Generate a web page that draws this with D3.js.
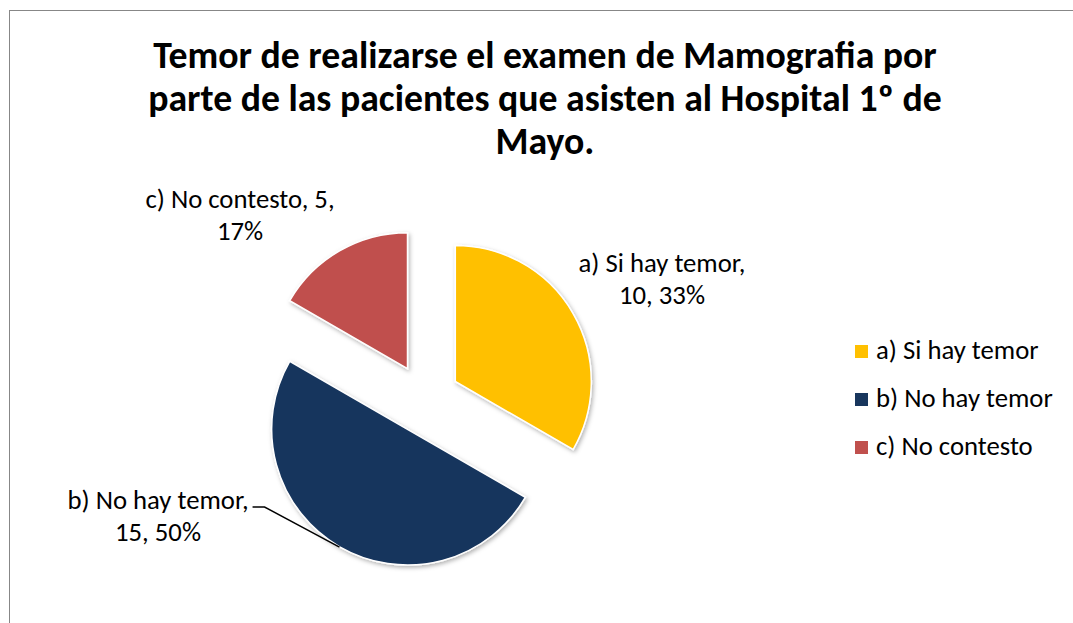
<!DOCTYPE html>
<html lang="es">
  <head>
    <meta charset="UTF-8" />
    <title>Temor de realizarse el examen de Mamografia</title>
    <style>
      body {
        margin: 0;
        background: #fff;
      }

      text {
        font-family: Calibri, Carlito, Lato, sans-serif;
        fill: #000;
      }

      .frame {
        fill: none;
        stroke: #878787;
        stroke-width: 1px;
      }

      .slice {
        stroke: #fff;
        stroke-width: 1.5px;
      }

      .leader {
        fill: none;
        stroke: #000;
        stroke-width: 1.5px;
      }
    </style>
  </head>

  <body>
    <script src="https://cdn.jsdelivr.net/npm/d3@7"></script>
    <script>

      // data
      var categories = ["a) Si hay temor", "b) No hay temor", "c) No contesto"];
      var counts = [10, 15, 5];
      var percents = ["33%", "50%", "17%"];
      var colors = ["#FFC000", "#18365D", "#C0504D"];
      var titleLines = [
        "Temor de realizarse el examen de Mamografia por",
        "parte de las pacientes que asisten al Hospital 1º de",
        "Mayo."
      ];

      var w = 1073,
          h = 623;

      var center = { x: 425, y: 399 },
          radius = 136,
          explode = 35;

      // label anchors relative to the pie center (middle of text, first baseline)
      var labelOffsets = [
        { dx: 237, dy: -127 },
        { dx: -267, dy: 110 },
        { dx: -185, dy: -191 }
      ];

      var svg = d3.select("body").append("svg")
        .attr("width", w)
        .attr("height", h);

      var defs = svg.append("defs");
      defs.append("filter")
        .attr("id", "shadow")
        .attr("x", "-20%").attr("y", "-20%")
        .attr("width", "140%").attr("height", "140%")
        .append("feDropShadow")
        .attr("dx", 1.5)
        .attr("dy", 2)
        .attr("stdDeviation", 2)
        .attr("flood-color", "#000")
        .attr("flood-opacity", 0.3);

      // chart frame (runs off the right and bottom edges)
      svg.append("rect")
        .attr("class", "frame")
        .attr("x", 9.5)
        .attr("y", 10.5)
        .attr("width", w + 20)
        .attr("height", h + 20);

      // pick a font size so a sample string matches the width seen in the picture
      function fitSize(str, weight, target) {
        var t = svg.append("text")
          .style("font-size", "100px")
          .style("font-weight", weight)
          .text(str);
        var len = t.node().getComputedTextLength();
        t.remove();
        return 100 * target / len;
      }

      var titleSize = fitSize(titleLines[0], "bold", 784);
      var labelSize = fitSize("a) Si hay temor,", "normal", 167);

      // title
      svg.append("g")
        .selectAll("text")
        .data(titleLines)
        .enter()
        .append("text")
        .attr("x", 545)
        .attr("y", function(d, i) { return 68 + i * 43; })
        .attr("text-anchor", "middle")
        .style("font-size", titleSize + "px")
        .style("font-weight", "bold")
        .text(function(d) { return d; });

      // pie
      var pie = d3.pie()
        .sort(null)
        .value(function(d) { return d; });

      var arcs = pie(counts);

      var arc = d3.arc()
        .innerRadius(0)
        .outerRadius(radius);

      function midAngle(d) { return (d.startAngle + d.endAngle) / 2; }

      function offset(d, r) {
        var a = midAngle(d);
        return [Math.sin(a) * r, -Math.cos(a) * r];
      }

      var pieG = svg.append("g")
        .attr("transform", "translate(" + center.x + "," + center.y + ")");

      pieG.selectAll("path")
        .data(arcs)
        .enter()
        .append("path")
        .attr("class", "slice")
        .attr("filter", "url(#shadow)")
        .attr("transform", function(d) {
          var o = offset(d, explode);
          return "translate(" + o[0] + "," + o[1] + ")";
        })
        .attr("fill", function(d, i) { return colors[i]; })
        .attr("d", arc);

      // data labels
      var lineGap = labelSize * 1.2;

      var labels = pieG.selectAll(".label")
        .data(arcs)
        .enter()
        .append("text")
        .attr("class", "label")
        .attr("text-anchor", "middle")
        .style("font-size", labelSize + "px");

      labels.each(function(d, i) {
        var t = d3.select(this),
            o = labelOffsets[i],
            first, second;
        if (i === 2) {
          first = categories[i] + ", " + counts[i] + ",";
          second = percents[i];
        } else {
          first = categories[i] + ",";
          second = counts[i] + ", " + percents[i];
        }
        t.append("tspan").attr("x", o.dx).attr("y", o.dy).text(first);
        t.append("tspan").attr("x", o.dx).attr("y", o.dy + lineGap).text(second);
      });

      // leader line for the big slice
      var bLabel = labels.filter(function(d, i) { return i === 1; });
      var bFirst = bLabel.select("tspan").node().getBBox();
      var bArc = arcs[1],
          bShift = offset(bArc, explode),
          bEdge = offset(bArc, radius);

      var lx = bFirst.x + bFirst.width + 4,
          ly = labelOffsets[1].dy - 2;

      pieG.append("path")
        .attr("class", "leader")
        .attr("d", d3.line()([
          [lx, ly],
          [lx + 12, ly],
          [bShift[0] + bEdge[0], bShift[1] + bEdge[1]]
        ]));

      // legend
      var legend = svg.append("g")
        .attr("transform", "translate(855,345)");

      var item = legend.selectAll("g")
        .data(categories)
        .enter()
        .append("g")
        .attr("transform", function(d, i) { return "translate(0," + (i * 48) + ")"; });

      item.append("rect")
        .attr("width", 13)
        .attr("height", 13)
        .attr("fill", function(d, i) { return colors[i]; });

      item.append("text")
        .attr("x", 21)
        .attr("y", 14)
        .style("font-size", labelSize + "px")
        .text(function(d) { return d; });

    </script>
  </body>
</html>
